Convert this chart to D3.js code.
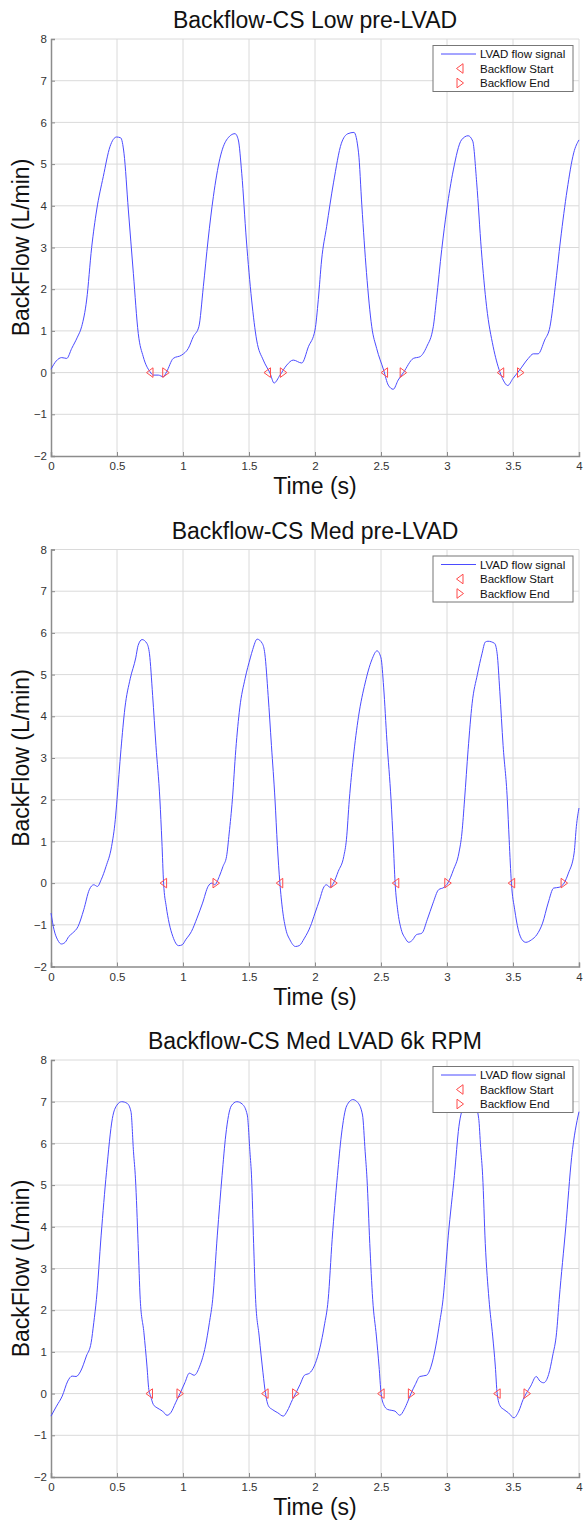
<!DOCTYPE html>
<html><head><meta charset="utf-8">
<script src="https://cdn.jsdelivr.net/npm/d3@7"></script>
<style>body{margin:0;background:#fff}svg{display:block}text{font-family:"Liberation Sans",Arial,sans-serif}</style>
</head><body>
<svg id="c" width="583" height="1521"></svg>
<script>
const titles = ["Backflow-CS Low pre-LVAD", "Backflow-CS Med pre-LVAD", "Backflow-CS Med LVAD 6k RPM"];
const xTicks = [0, 0.5, 1, 1.5, 2, 2.5, 3, 3.5, 4];
const xTickLabels = ["0", "0.5", "1", "1.5", "2", "2.5", "3", "3.5", "4"];
const yTicks = [-2, -1, 0, 1, 2, 3, 4, 5, 6, 7, 8];
const legendLabels = ["LVAD flow signal", "Backflow Start", "Backflow End"];

const lowPreLvad = [[0,0.08],[0.04,0.28],[0.081,0.36],[0.119,0.34],[0.157,0.58],[0.2,0.85],[0.232,1.1],[0.27,1.74],[0.308,3.0],[0.346,3.9],[0.396,4.7],[0.447,5.42],[0.497,5.65],[0.528,5.63],[0.553,5.26],[0.586,3.9],[0.624,2.38],[0.661,0.94],[0.699,0.38],[0.75,0.02],[0.775,-0.06],[0.813,-0.06],[0.851,-0.1],[0.876,0.02],[0.926,0.34],[0.99,0.42],[1.04,0.58],[1.078,0.86],[1.12,1.1],[1.154,2.06],[1.19,3.18],[1.23,4.22],[1.28,5.14],[1.33,5.58],[1.394,5.73],[1.419,5.58],[1.445,4.78],[1.48,3.18],[1.52,1.74],[1.558,0.78],[1.608,0.3],[1.66,-0.02],[1.69,-0.25],[1.735,-0.06],[1.786,0.18],[1.835,0.3],[1.9,0.23],[1.95,0.62],[2.0,1.02],[2.025,1.75],[2.05,2.7],[2.088,3.5],[2.14,4.55],[2.2,5.5],[2.25,5.73],[2.295,5.76],[2.33,5.27],[2.355,4.0],[2.39,2.4],[2.43,1.1],[2.467,0.58],[2.52,0.06],[2.555,-0.3],[2.593,-0.4],[2.63,-0.18],[2.67,0],[2.745,0.34],[2.795,0.38],[2.846,0.62],[2.896,1.1],[2.92,1.75],[2.96,2.95],[2.998,3.9],[3.048,4.86],[3.11,5.58],[3.16,5.68],[3.195,5.55],[3.225,4.55],[3.26,2.95],[3.3,1.58],[3.35,0.62],[3.4,0.02],[3.426,-0.18],[3.46,-0.31],[3.5,-0.14],[3.55,0.06],[3.616,0.34],[3.654,0.45],[3.69,0.45],[3.74,0.78],[3.78,1.1],[3.82,2.06],[3.86,3.18],[3.91,4.38],[3.96,5.27],[4.0,5.58]];
const lowStart = [0.75, 1.64, 2.527, 3.407];
const lowEnd = [0.869, 1.76, 2.668, 3.557];

const medPreLvad = [[0,-0.72],[0.023,-1.12],[0.05,-1.36],[0.079,-1.46],[0.107,-1.42],[0.135,-1.28],[0.163,-1.2],[0.205,-1.04],[0.248,-0.64],[0.29,-0.16],[0.324,-0.04],[0.352,-0.08],[0.38,0.08],[0.417,0.4],[0.459,0.88],[0.487,1.52],[0.5,2.0],[0.53,3.2],[0.56,4.2],[0.6,4.9],[0.642,5.4],[0.66,5.7],[0.69,5.84],[0.726,5.75],[0.746,5.5],[0.77,4.5],[0.795,3.3],[0.825,2.0],[0.84,1.0],[0.853,0],[0.873,-0.56],[0.895,-0.96],[0.923,-1.28],[0.966,-1.5],[0.994,-1.48],[1.02,-1.36],[1.064,-1.16],[1.106,-0.84],[1.148,-0.48],[1.19,-0.08],[1.219,0],[1.24,-0.04],[1.275,0.16],[1.303,0.4],[1.33,0.64],[1.35,1.2],[1.374,2.0],[1.4,3.2],[1.43,4.2],[1.47,4.9],[1.51,5.4],[1.528,5.6],[1.562,5.85],[1.6,5.75],[1.62,5.5],[1.645,4.5],[1.67,3.3],[1.697,2.0],[1.715,0.9],[1.734,0],[1.754,-0.64],[1.78,-1.12],[1.81,-1.36],[1.852,-1.52],[1.88,-1.5],[1.92,-1.32],[1.965,-1.04],[2.0,-0.72],[2.035,-0.4],[2.063,-0.12],[2.086,-0.04],[2.114,-0.1],[2.14,0],[2.176,0.28],[2.218,0.64],[2.238,1.04],[2.26,2.0],[2.29,3.0],[2.33,4.0],[2.38,4.8],[2.43,5.35],[2.47,5.57],[2.5,5.4],[2.52,4.7],[2.545,3.4],[2.576,2.0],[2.593,0.96],[2.607,0],[2.626,-0.64],[2.654,-1.12],[2.683,-1.32],[2.71,-1.42],[2.74,-1.36],[2.767,-1.24],[2.81,-1.2],[2.85,-0.88],[2.894,-0.48],[2.936,-0.16],[2.978,-0.1],[3.006,0],[3.049,0.32],[3.09,0.72],[3.113,1.2],[3.133,2.0],[3.16,3.2],[3.19,4.3],[3.23,5.0],[3.265,5.5],[3.29,5.78],[3.31,5.8],[3.36,5.75],[3.38,5.5],[3.4,4.6],[3.425,3.3],[3.457,2.0],[3.471,1.04],[3.488,0],[3.513,-0.64],[3.54,-1.12],[3.569,-1.36],[3.597,-1.42],[3.64,-1.36],[3.68,-1.24],[3.724,-0.96],[3.766,-0.48],[3.808,-0.12],[3.85,-0.1],[3.887,0],[3.92,0.24],[3.963,0.72],[3.98,1.36],[4.0,1.8]];
const medStart = [0.853, 1.733, 2.612, 3.49];
const medEnd = [1.25, 2.142, 3.006, 3.887];

const medLvad6k = [[0,-0.54],[0.042,-0.3],[0.085,-0.06],[0.127,0.3],[0.16,0.42],[0.19,0.41],[0.225,0.54],[0.268,0.9],[0.304,1.22],[0.324,1.7],[0.344,2.26],[0.38,3.8],[0.42,5.3],[0.465,6.6],[0.5,6.92],[0.535,7.0],[0.577,6.96],[0.606,6.76],[0.625,5.8],[0.64,5.15],[0.66,3.6],[0.676,2.26],[0.704,1.46],[0.727,0.66],[0.741,0.1],[0.755,-0.06],[0.775,-0.26],[0.803,-0.34],[0.845,-0.42],[0.879,-0.52],[0.907,-0.46],[0.944,-0.22],[0.977,0],[1.014,0.26],[1.048,0.49],[1.085,0.44],[1.127,0.66],[1.17,1.14],[1.2,1.7],[1.225,2.26],[1.26,3.8],[1.296,5.23],[1.324,6.2],[1.366,6.9],[1.408,7.0],[1.45,6.94],[1.487,6.68],[1.507,5.8],[1.52,5.15],[1.535,3.6],[1.55,2.26],[1.577,1.38],[1.606,0.5],[1.625,0],[1.648,-0.3],[1.676,-0.38],[1.718,-0.46],[1.76,-0.54],[1.789,-0.42],[1.83,-0.14],[1.853,0],[1.887,0.22],[1.92,0.44],[1.958,0.49],[1.994,0.66],[2.028,0.98],[2.07,1.62],[2.1,2.26],[2.13,3.7],[2.17,5.23],[2.2,6.2],[2.24,6.9],[2.287,7.05],[2.324,6.98],[2.36,6.68],[2.38,5.8],[2.394,5.15],[2.415,3.6],[2.437,2.26],[2.465,1.38],[2.485,0.66],[2.501,0],[2.52,-0.26],[2.55,-0.38],[2.577,-0.4],[2.606,-0.42],[2.642,-0.52],[2.676,-0.38],[2.704,-0.18],[2.727,0],[2.76,0.22],[2.794,0.41],[2.845,0.44],[2.88,0.66],[2.915,1.14],[2.944,1.7],[2.97,2.26],[3.01,3.8],[3.056,5.23],[3.09,6.4],[3.13,6.9],[3.17,7.0],[3.21,6.95],[3.24,6.6],[3.255,5.9],[3.27,5.23],[3.29,3.6],[3.318,2.26],[3.346,1.38],[3.366,0.66],[3.38,0],[3.403,-0.3],[3.43,-0.38],[3.465,-0.46],[3.507,-0.58],[3.544,-0.42],[3.577,-0.14],[3.6,0],[3.634,0.18],[3.676,0.41],[3.704,0.3],[3.732,0.26],[3.77,0.46],[3.8,0.9],[3.83,1.46],[3.85,2.26],[3.9,4.0],[3.944,5.66],[4.0,6.76]];
const lvadStart = [0.746, 1.622, 2.501, 3.38];
const lvadEnd = [0.977, 1.853, 2.73, 3.606];

const series = [lowPreLvad, medPreLvad, medLvad6k];
const starts = [lowStart, medStart, lvadStart];
const ends = [lowEnd, medEnd, lvadEnd];

const svg = d3.select("#c");
const L = 51, R = 579, H = 417;
const tops = [39, 549.5, 1060];
const lineColor = "#4b4bff", markColor = "#ff4a4a";

function triLeft(cx, cy) { return `M${cx-3.5},${cy}L${cx+3},${cy-4.8}L${cx+3},${cy+4.8}Z`; }
function triRight(cx, cy) { return `M${cx+3.5},${cy}L${cx-3},${cy-4.8}L${cx-3},${cy+4.8}Z`; }

titles.forEach((title, i) => {
  const top = tops[i];
  const g = svg.append("g");
  const x = d3.scaleLinear().domain([0, 4]).range([L, R]);
  const y = d3.scaleLinear().domain([-2, 8]).range([top + H, top]);

  g.append("g").selectAll("line").data(xTicks.slice(1)).join("line")
    .attr("x1", d => x(d)).attr("x2", d => x(d)).attr("y1", top).attr("y2", top + H)
    .attr("stroke", "#dadada").attr("stroke-width", 1);
  g.append("g").selectAll("line").data(yTicks.slice(1)).join("line")
    .attr("x1", L).attr("x2", R).attr("y1", d => y(d)).attr("y2", d => y(d))
    .attr("stroke", "#dadada").attr("stroke-width", 1);

  const ax = g.append("g").attr("transform", `translate(0,${top + H})`)
    .call(d3.axisBottom(x).tickValues(xTicks).tickFormat((d, k) => xTickLabels[k]).tickSize(-4).tickPadding(6));
  const ay = g.append("g").attr("transform", `translate(${L},0)`)
    .call(d3.axisLeft(y).tickValues(yTicks).tickFormat(d3.format("d")).tickSize(-4).tickPadding(4));
  [ax, ay].forEach(a => {
    a.select(".domain").attr("stroke", "#8c8c8c").attr("stroke-width", 1.5);
    a.selectAll(".tick line").attr("stroke", "#8c8c8c");
    a.selectAll("text").attr("font-size", 11.5).attr("fill", "#333").attr("font-family", "Liberation Sans, Arial, sans-serif");
  });

  const line = d3.line().x(d => x(d[0])).y(d => y(d[1])).curve(d3.curveMonotoneX);
  g.append("path").datum(series[i]).attr("d", line).attr("fill", "none")
    .attr("stroke", lineColor).attr("stroke-width", 1);

  g.append("g").selectAll("path").data(starts[i]).join("path")
    .attr("d", d => triLeft(x(d), y(0))).attr("fill", "none").attr("stroke", markColor).attr("stroke-width", 1);
  g.append("g").selectAll("path").data(ends[i]).join("path")
    .attr("d", d => triRight(x(d), y(0))).attr("fill", "none").attr("stroke", markColor).attr("stroke-width", 1);

  g.append("text").attr("x", (L + R) / 2).attr("y", top - 11).attr("text-anchor", "middle")
    .attr("font-size", 23).attr("fill", "#111").text(title);
  g.append("text").attr("x", (L + R) / 2).attr("y", top + H + 38).attr("text-anchor", "middle")
    .attr("font-size", 23).attr("fill", "#111").text("Time (s)");
  g.append("text").attr("transform", `translate(29,${top + H / 2}) rotate(-90)`).attr("text-anchor", "middle")
    .attr("font-size", 23).attr("fill", "#111").text("BackFlow (L/min)");

  const lg = g.append("g").attr("transform", `translate(433,${top + 6.5})`);
  lg.append("rect").attr("width", 140).attr("height", 46).attr("fill", "#fff").attr("stroke", "#777").attr("stroke-width", 1);
  const rows = [8.5, 23, 37.5];
  lg.append("line").attr("x1", 8).attr("x2", 43).attr("y1", rows[0]).attr("y2", rows[0]).attr("stroke", lineColor).attr("stroke-width", 1);
  lg.append("path").attr("d", triLeft(27, rows[1])).attr("fill", "none").attr("stroke", markColor);
  lg.append("path").attr("d", triRight(27, rows[2])).attr("fill", "none").attr("stroke", markColor);
  lg.selectAll("text.lbl").data(legendLabels).join("text").attr("class", "lbl")
    .attr("x", 47).attr("y", (d, k) => rows[k] + 4).attr("font-size", 11.5).attr("fill", "#111").text(d => d);
});
</script>
</body></html>
